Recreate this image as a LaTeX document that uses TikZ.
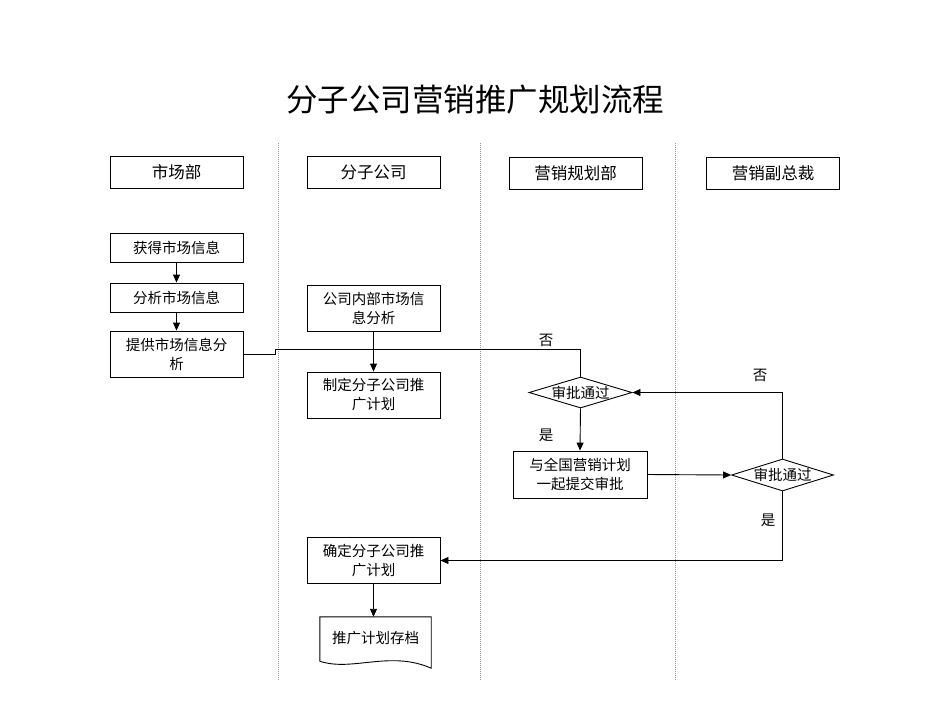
\documentclass[tikz,border=0pt]{standalone}
\usepackage{fontspec}
\newfontfamily\cjk{Noto Sans CJK SC}
\usetikzlibrary{arrows.meta,shapes.geometric}
\begin{document}
\begin{tikzpicture}[x=1pt,y=-1pt,
  font={\cjk\fontsize{14.5}{19}\selectfont},
  box/.style={draw=black, line width=0.9pt, minimum width=133pt, inner sep=0pt, align=center, anchor=center},
  hbox/.style={box, minimum height=32pt, font={\cjk\fontsize{16.5}{20}\selectfont}},
  sbox/.style={box, minimum height=29pt},
  dbox/.style={box, minimum height=46pt},
  dia/.style={draw=black, line width=0.9pt, shape=diamond, aspect=3.3, inner sep=0pt, minimum width=103pt, minimum height=31pt},
  lane/.style={draw=gray!80, line width=0.9pt, dash pattern=on 1pt off 1pt},
  conn/.style={draw=black, line width=0.9pt},
  arr/.style={conn, -{Triangle[length=8pt,width=7pt]}}
]
\useasboundingbox (0,0) rectangle (950,713);
\fill[white] (0,0) rectangle (950,713);

% title
\node (title) at (475,100) {\fontsize{31.5}{38}\selectfont 分子公司营销推广规划流程};

% lanes
\coordinate (l1t) at (278,143); \coordinate (l1b) at (278,680);
\coordinate (l2t) at (480,143); \coordinate (l2b) at (480,680);
\coordinate (l3t) at (675,143); \coordinate (l3b) at (675,680);
\draw[lane] (l1t) -- (l1b);
\draw[lane] (l2t) -- (l2b);
\draw[lane] (l3t) -- (l3b);

% headers
\node[hbox] (h1) at (176.5,172) {市场部};
\node[hbox] (h2) at (373.5,172) {分子公司};
\node[hbox] (h3) at (575.5,173) {营销规划部};
\node[hbox] (h4) at (773,173) {营销副总裁};

% market dept
\node[sbox] (a1) at (176.5,248) {获得市场信息};
\node[sbox] (a2) at (176.5,297.5) {分析市场信息};
\node[dbox] (a3) at (176.5,354) {提供市场信息分\\析};

% subsidiary
\node[dbox] (b1) at (373.5,308.5) {公司内部市场信\\息分析};
\node[dbox] (b2) at (373.5,395) {制定分子公司推\\广计划};
\node[dbox] (c1) at (373.5,560.5) {确定分子公司推\\广计划};
\node[minimum width=111pt, minimum height=43pt, inner sep=0pt] (doc) at (375.5,638.5) {推广计划存档};
\draw[conn] (doc.north west) -- (doc.north east) -- ([yshift=-8pt]doc.south east)
  .. controls (390,650) and (352,672) .. ([yshift=-1pt]doc.south west) -- cycle;

% marketing planning
\node[dia] (d1) at (580.5,392.5) {};
\node (d1t) at (d1.center) {审批通过};
\node[dbox, minimum width=134pt, minimum height=47pt] (b5) at (580,474.5) {与全国营销计划\\一起提交审批};

% VP
\node[dia, minimum width=102pt, minimum height=32pt] (d2) at (782.5,475) {};
\node (d2t) at (d2.center) {审批通过};

% connectors
\draw[arr] (a1.south) -- (a2.north);
\draw[arr] (a2.south) -- (a3.north);
\draw[arr] (b1.south) -- (b2.north);
\draw[conn] (a3.east) -- ++(32,0) -- ++(0,-5) -| (d1.north);
\node (no1) at (546,340) {否};
\draw[arr] (d1.south) -- (b5.north);
\node (yes1) at (546,435) {是};
\draw[arr] (b5.east) -- (d2.west);
\draw[arr] (d2.north) |- (d1.east);
\node (no2) at (760,375) {否};
\draw[arr] (d2.south) |- (c1.east);
\node (yes2) at (768,520) {是};
\draw[arr] (c1.south) -- (c1.south |- doc.north);
\end{tikzpicture}
\end{document}
